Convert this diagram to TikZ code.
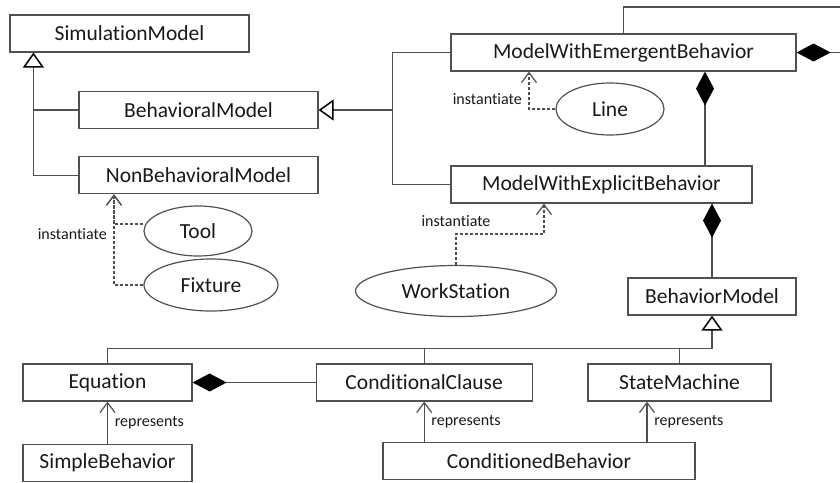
\documentclass[tikz,border=0pt]{standalone}
\usepackage{fontspec}
\setmainfont{Carlito}[Ligatures=NoCommon]
\usetikzlibrary{arrows.meta,positioning,shapes.geometric}
\definecolor{umlline}{RGB}{80,80,80}
\definecolor{umltext}{RGB}{25,25,25}

\begin{document}
\begin{tikzpicture}[x=0.5pt, y=-0.5pt,
  box/.style={draw=umlline, line width=0.6pt, fill=white, text=umltext,
              font=\fontsize{10.75}{12}\selectfont, inner sep=0pt, minimum height=18.5pt},
  obj/.style={ellipse, draw=umlline, line width=0.6pt, fill=white, text=umltext,
              font=\fontsize{10.75}{12}\selectfont, inner sep=0pt},
  lab/.style={font=\fontsize{8}{9.6}\selectfont, text=umltext},
  assoc/.style={draw=umlline, line width=0.6pt},
  gen/.style={assoc, -{Triangle[open, length=7.5pt, width=10.5pt, color=black, line width=0.75pt]}},
  comp/.style={assoc, {Diamond[length=17pt, width=9pt, fill=black, color=black]}-},
  rep/.style={assoc, -{Straight Barb[length=5pt, width=7.5pt]}},
  instof/.style={rep, dash pattern=on 1.5pt off 1pt}]
  \useasboundingbox (0,0) rectangle (840,482);

  % model hierarchy
  \node[box, minimum width=119.5pt] (sim) at (129.5,33.5) {SimulationModel};
  \node[box, minimum width=119.5pt] (beh) at (198.5,110) {BehavioralModel};
  \node[box, minimum width=119.5pt, below=13.5pt of beh] (nonbeh) {NonBehavioralModel};
  \node[box, minimum width=172.5pt] (emerg) at (623.5,52.5) {ModelWithEmergentBehavior};
  \node[box, minimum width=150.5pt] (expl) at (601.5,184.5) {ModelWithExplicitBehavior};
  \node[box, minimum width=84pt] (bmodel) at (712,296.5) {BehaviorModel};

  % behaviour kinds
  \node[box, minimum width=84.5pt] (eq) at (107.5,382.5) {Equation};
  \node[box, minimum width=108pt, right=61.5pt of eq] (cond) {ConditionalClause};
  \node[box, minimum width=91.5pt] (state) at (679.5,382.5) {StateMachine};
  \node[box, minimum width=84.5pt, below=21pt of eq] (simple) {SimpleBehavior};
  \node[box, minimum width=156pt] (condb) at (539,461) {ConditionedBehavior};

  % instances
  \node[obj, minimum width=54pt, minimum height=26pt] (line) at (610,109) {Line};
  \node[obj, minimum width=54pt, minimum height=25pt] (tool) at (198,231) {Tool};
  \node[obj, minimum width=67pt, minimum height=26pt] (fixture) at (211,285) {Fixture};
  \node[obj, minimum width=100.5pt, minimum height=25.5pt] (ws) at (456,291) {WorkStation};

  \coordinate (rimtop) at (840,7);
  \coordinate (rimside) at (840,52.5);

  % generalisations
  \draw[gen] (nonbeh.west) -| ([xshift=12pt]sim.south west);
  \draw[assoc] (beh.west) -- ++(-45,0);
  \draw[assoc] (emerg.west) -- ++(-58,0) |- (expl.west);
  \draw[gen] ([xshift=-29pt]emerg.west) |- (beh.east);
  \draw[gen] (eq.north) -- ++(0,-15) -| (bmodel.south);
  \draw[assoc] (cond.north) -- ++(0,-15);
  \draw[assoc] (state.north) -- ++(0,-15);

  % compositions
  \draw[assoc] (emerg.north) |- (rimtop);
  \draw[comp] (emerg.east) -- (rimside);
  \draw[comp] ([xshift=40.75pt]emerg.south) -- ([xshift=40.75pt]emerg.south |- expl.north);
  \draw[comp] (expl.south -| bmodel.north) -- (bmodel.north);
  \draw[comp] (eq.east) -- (cond.west);

  % represents
  \draw[rep] (simple.north) -- (eq.south) node[lab, midway, right] {represents};
  \draw[rep] (cond.south |- condb.north) -- (cond.south) node[lab, midway, right] {represents};
  \draw[rep] ([xshift=-16.25pt]state.south |- condb.north) -- ([xshift=-16.25pt]state.south)
    node[lab, midway, right] {represents};

  % instantiate
  \draw[instof] (line.west) -| ([xshift=-47.25pt]emerg.south) node[lab, pos=.63, left] {instantiate};
  \draw[instof] (ws.north) -- ++(0,-31) node[lab, above] {instantiate} -| ([xshift=-28.75pt]expl.south);
  \draw[instof] ([yshift=3.5pt]tool.west) -| ([xshift=-42.25pt]nonbeh.south);
  \draw[instof] (fixture.west) -| ([xshift=-42.25pt]nonbeh.south) node[lab, pos=.78, left] {instantiate};
\end{tikzpicture}
\end{document}
